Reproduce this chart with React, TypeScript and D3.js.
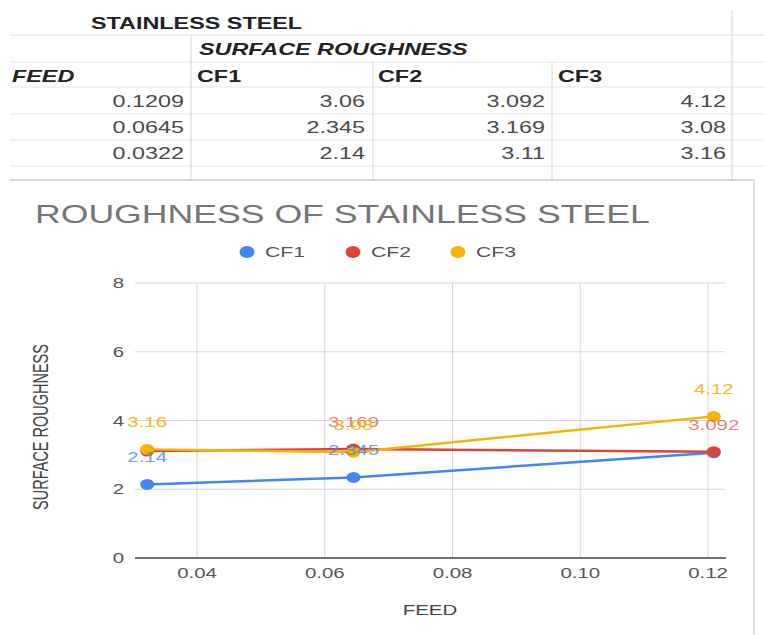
import React from "react";
import * as d3 from "d3";

// ---- data ----
const feed = [0.1209, 0.0645, 0.0322];
const seriesNames = ["CF1", "CF2", "CF3"];
const cf1 = [3.06, 2.345, 2.14];
const cf2 = [3.092, 3.169, 3.11];
const cf3 = [4.12, 3.08, 3.16];
const seriesColors = ["#4285F4", "#DB4437", "#F4B400"];
const labelOpacity = [0.8, 0.65, 0.9];
// which data labels are visible (the chart hides overlapping ones)
const cf1Labels = [false, true, true];
const cf2Labels = [true, true, false];
const cf3Labels = [true, true, true];
const xTicks = [0.04, 0.06, 0.08, 0.1, 0.12];
const yTicks = [0, 2, 4, 6, 8];
const tableTitle = "STAINLESS STEEL";
const tableSubTitle = "SURFACE ROUGHNESS";
const feedHeader = "FEED";
const chartTitle = "ROUGHNESS OF STAINLESS STEEL";
const xTitle = "FEED";
const yTitle = "SURFACE ROUGHNESS";

const FONT = "'Liberation Sans', Arial, sans-serif";
const SX = 1.46;

type TProps = {
  x: number;
  y: number;
  sx?: number;
  anchor?: "start" | "middle" | "end";
  size?: number;
  fill?: string;
  weight?: string | number;
  italic?: boolean;
  opacity?: number;
  rotate?: number;
  children: React.ReactNode;
};

const T = ({ x, y, sx = SX, anchor = "start", size = 14, fill = "#444", weight = "normal", italic = false, opacity = 1, rotate = 0, children }: TProps) => (
  <text
    transform={`translate(${x},${y}) scale(${sx},1)${rotate ? ` rotate(${rotate})` : ""}`}
    textAnchor={anchor}
    fontFamily={FONT}
    fontSize={size}
    fill={fill}
    fontWeight={weight}
    fontStyle={italic ? "italic" : "normal"}
    opacity={opacity}
  >
    {children}
  </text>
);

export default function App() {
  const W = 764;
  const H = 635;

  // table layout
  const rowLines = [35, 62, 87, 114, 140, 166];
  const colRight = [184, 365, 545, 726];
  const colLeft = [12, 197, 378, 558];
  const rowBase = [107, 133, 159];
  const tableRows = feed.map((f, i) => [f, cf1[i], cf2[i], cf3[i]]);

  // chart layout
  const plotL = 135;
  const plotR = 725;
  const plotT = 283;
  const plotB = 558;
  const x = d3.scaleLinear().domain([0.04, 0.12]).range([197, 708]);
  const y = d3.scaleLinear().domain([0, 8]).range([plotB, plotT]);
  const fmtX = d3.format(".2f");

  const series = [cf1, cf2, cf3].map((vals, si) => {
    const labels = [cf1Labels, cf2Labels, cf3Labels][si];
    const pts = feed.map((f, i) => ({ f, v: vals[i], show: labels[i] }));
    const sorted = [...pts].sort((a, b) => a.f - b.f);
    return { name: seriesNames[si], color: seriesColors[si], op: labelOpacity[si], pts, sorted };
  });

  const line = d3
    .line<{ f: number; v: number }>()
    .x((d) => x(d.f))
    .y((d) => y(d.v));

  const legendDots = [247, 353, 458];

  return (
    <svg width={W} height={H} style={{ position: "absolute", left: 0, top: 0, background: "#fff" }}>
      <rect x={0} y={0} width={W} height={H} fill="#fff" />
      {/* ---- spreadsheet table ---- */}
      {rowLines.map((ly) => (
        <line key={ly} x1={10} x2={W} y1={ly} y2={ly} stroke="#e3e3e3" strokeWidth={1.2} />
      ))}
      <line x1={191} x2={191} y1={35} y2={180} stroke="#dcdcdc" strokeWidth={1.2} />
      <line x1={373} x2={373} y1={62} y2={180} stroke="#dcdcdc" strokeWidth={1.2} />
      <line x1={552} x2={552} y1={62} y2={180} stroke="#dcdcdc" strokeWidth={1.2} />
      <line x1={732} x2={732} y1={10} y2={180} stroke="#dcdcdc" strokeWidth={1.2} />
      <T x={91} y={29} size={16} weight="bold" fill="#222">{tableTitle}</T>
      <T x={199} y={55} size={16} weight="bold" italic fill="#222">{tableSubTitle}</T>
      <T x={colLeft[0]} y={82} size={16} weight="bold" italic fill="#222">{feedHeader}</T>
      {seriesNames.map((n, i) => (
        <T key={n} x={colLeft[i + 1]} y={82} size={16} weight="bold" fill="#222">{n}</T>
      ))}
      {tableRows.map((row, ri) =>
        row.map((v, ci) => (
          <T key={`${ri}-${ci}`} x={colRight[ci]} y={rowBase[ri]} size={16} anchor="end" fill="#4a4a4a">
            {String(v)}
          </T>
        ))
      )}

      {/* ---- chart frame ---- */}
      <line x1={10} x2={754} y1={180} y2={180} stroke="#c8c8c8" strokeWidth={1.5} />
      <line x1={754} x2={754} y1={180} y2={H} stroke="#d0d0d0" strokeWidth={1.5} />

      <T x={35} y={223} size={26} sx={1.37} fill="#757575">{chartTitle}</T>

      {/* legend */}
      {series.map((s, i) => (
        <g key={s.name}>
          <ellipse cx={legendDots[i]} cy={252} rx={7.5} ry={6} fill={s.color} />
          <T x={legendDots[i] + 18} y={257} size={14.5} fill="#555">{s.name}</T>
        </g>
      ))}

      {/* gridlines */}
      {yTicks.filter((t) => t !== 0).map((t) => (
        <line key={`gy${t}`} x1={plotL} x2={plotR} y1={y(t)} y2={y(t)} stroke="#d6d6d6" strokeWidth={1} />
      ))}
      {xTicks.map((t) => (
        <line key={`gx${t}`} x1={x(t)} x2={x(t)} y1={plotT} y2={plotB} stroke="#d6d6d6" strokeWidth={1} />
      ))}
      <line x1={plotL} x2={plotR + 1} y1={plotB} y2={plotB} stroke="#444" strokeWidth={1.5} />

      {/* tick labels */}
      {yTicks.map((t) => (
        <T key={`ty${t}`} x={124} y={y(t) + 5} anchor="end" fill="#555">{String(t)}</T>
      ))}
      {xTicks.map((t) => (
        <T key={`tx${t}`} x={x(t)} y={578} anchor="middle" fill="#555">{fmtX(t)}</T>
      ))}

      {/* axis titles */}
      <T x={430} y={615} anchor="middle" fill="#444">{xTitle}</T>
      <T x={48} y={427} anchor="middle" size={14.5} rotate={-90} fill="#444">{yTitle}</T>

      {/* lines */}
      {series.map((s) => (
        <path key={`l${s.name}`} d={line(s.sorted) || ""} fill="none" stroke={s.color} strokeWidth={2.5} />
      ))}
      {/* points */}
      {series.map((s) =>
        s.pts.map((p, i) => (
          <ellipse key={`p${s.name}${i}`} cx={x(p.f)} cy={y(p.v)} rx={7} ry={5.5} fill={s.color} />
        ))
      )}
      {/* data labels */}
      {series.map((s) =>
        s.pts.map((p, i) =>
          p.show ? (
            <T key={`d${s.name}${i}`} x={x(p.f)} y={y(p.v) - 22} anchor="middle" fill={s.color} opacity={s.op}>
              {String(p.v)}
            </T>
          ) : null
        )
      )}
    </svg>
  );
}
